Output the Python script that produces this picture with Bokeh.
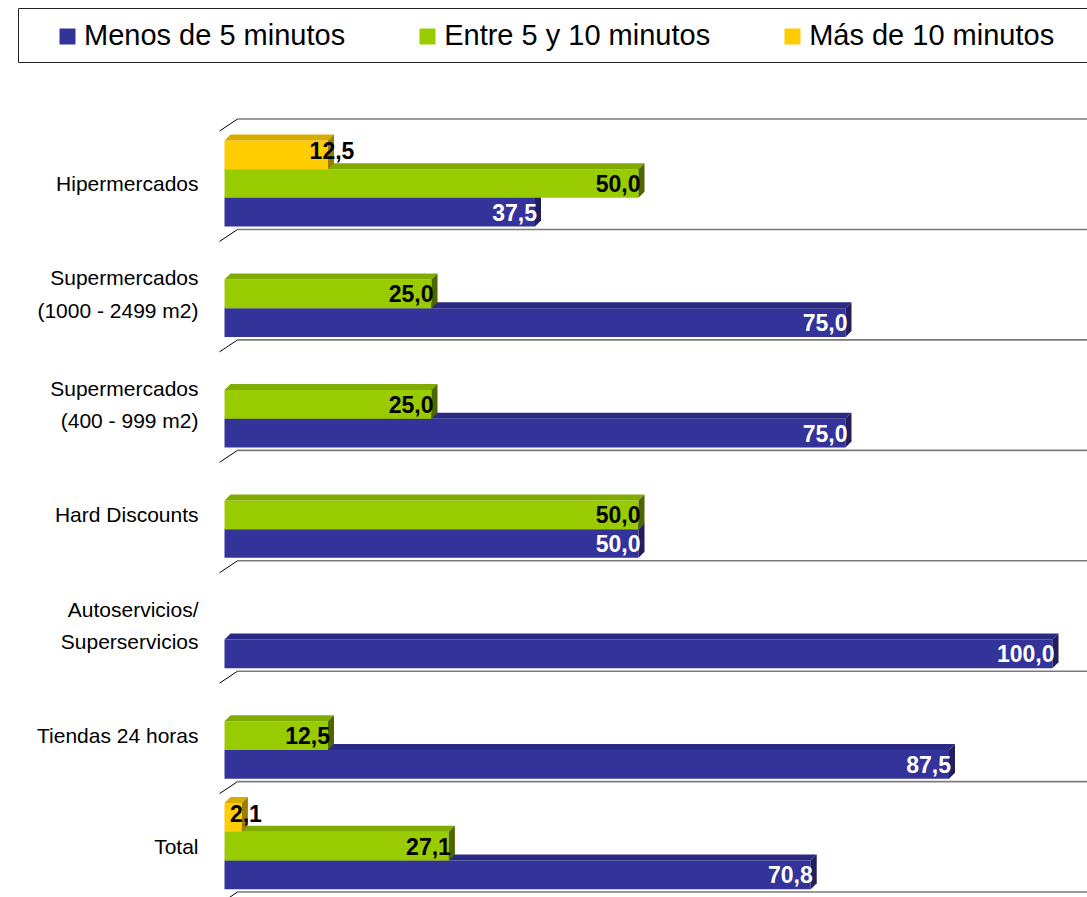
from bokeh.plotting import figure
from bokeh.models import Range1d, ColumnDataSource, Legend, LegendItem, BoxAnnotation
from bokeh.core.properties import value
from bokeh.embed import file_html
from bokeh.resources import INLINE

# ---------------- data ----------------
categories = [
    "Hipermercados",
    "Supermercados\n(1000 - 2499 m2)",
    "Supermercados\n(400 - 999 m2)",
    "Hard Discounts",
    "Autoservicios/\nSuperservicios",
    "Tiendas 24 horas",
    "Total",
]
menos_5 = [37.5, 75.0, 75.0, 50.0, 100.0, 87.5, 70.8]
entre_5_10 = [50.0, 25.0, 25.0, 50.0, 0.0, 12.5, 27.1]
mas_10 = [12.5, 0.0, 0.0, 0.0, 0.0, 0.0, 2.1]
series_names = ["Menos de 5 minutos", "Entre 5 y 10 minutos", "Más de 10 minutos"]

# ---------------- layout / style ----------------
FONT = "Liberation Sans"
W, H = 1087, 897
PX_X = 8.28            # pixels per percentage point
X0_PX = 224            # canvas x of value 0
PX_Y = 110.43          # pixels per category band
TOP_CENTER_PX = 183    # canvas y of first category centre

x_start = -X0_PX / PX_X
x_end = x_start + W / PX_X
n = len(categories)
y_end = (n - 1) + TOP_CENTER_PX / PX_Y
y_start = y_end - H / PX_Y

p = figure(width=W, height=H,
           x_range=Range1d(x_start, x_end), y_range=Range1d(y_start, y_end),
           x_axis_location=None, y_axis_location=None,
           output_backend="svg", toolbar_location=None,
           min_border=0, outline_line_color=None,
           background_fill_color="white", border_fill_color="white")
p.grid.visible = False

centers = [n - 1 - i for i in range(n)]

# ---- 3D floor grid lines (back plane) ----
DEPTH_X = 18 / PX_X
DEPTH_Y = 12 / PX_Y
FRONT_X = -5 / PX_X
front_lines = [centers[0] + 0.475] + [c - 0.525 for c in centers]
p.segment(x0=[FRONT_X + DEPTH_X] * len(front_lines), x1=[x_end + 5] * len(front_lines),
          y0=[f + DEPTH_Y for f in front_lines], y1=[f + DEPTH_Y for f in front_lines],
          line_color="#7a7a7a", line_width=1.6)
p.segment(x0=[FRONT_X] * len(front_lines), x1=[FRONT_X + DEPTH_X] * len(front_lines),
          y0=front_lines, y1=[f + DEPTH_Y for f in front_lines],
          line_color="#000000", line_width=1)

# ---- bars ----
BAR_H = 0.26
DX = 6 / PX_X
DY = 6 / PX_Y
specs = [
    (menos_5, -BAR_H, "#333399", "#2a2a85", "#1f1f5e", "white"),
    (entre_5_10, 0.0, "#99CC00", "#80ab00", "#4d6600", "black"),
    (mas_10, BAR_H, "#FFCC00", "#d9ad00", "#9c7d00", "black"),
]
renderers = []
for k, (vals, off, c_front, c_top, c_side, c_txt) in enumerate(specs):
    idx = [i for i, v in enumerate(vals) if v > 0]
    ys = [centers[i] + off for i in idx]
    vs = [vals[i] for i in idx]
    src = ColumnDataSource(dict(y=ys, v=vs))
    r = p.hbar(y="y", left=0, right="v", height=BAR_H, source=src,
               fill_color=c_front, line_color=None)
    renderers.append(r)
    top_xs = [[0, v, v + DX, DX] for v in vs]
    top_ys = [[y + BAR_H / 2, y + BAR_H / 2, y + BAR_H / 2 + DY, y + BAR_H / 2 + DY] for y in ys]
    p.patches(xs=top_xs, ys=top_ys, fill_color=c_top, line_color=None)
    side_xs = [[v, v + DX, v + DX, v] for v in vs]
    side_ys = [[y - BAR_H / 2, y - BAR_H / 2 + DY, y + BAR_H / 2 + DY, y + BAR_H / 2] for y in ys]
    p.patches(xs=side_xs, ys=side_ys, fill_color=c_side, line_color=None)

# ---- data labels ----
for k, (vals, off, c_front, c_top, c_side, c_txt) in enumerate(specs):
    idx = [i for i, v in enumerate(vals) if v > 0]
    ys = [centers[i] + off for i in idx]
    vs = [vals[i] for i in idx]
    src = ColumnDataSource(dict(y=ys, v=vs, lbl=[f"{v:.1f}".replace(".", ",") for v in vs]))
    if k < 2:
        p.text(x="v", y="y", text="lbl", source=src, x_offset=2, y_offset=0,
               text_align="right", text_baseline="middle",
               text_font=value(FONT), text_font_style="bold", text_font_size="23px",
               text_color=c_txt)
    else:
        p.text(x="v", y="y", text="lbl", source=src, x_offset=4, y_offset=-4,
               text_align="center", text_baseline="middle",
               text_font=value(FONT), text_font_style="bold", text_font_size="23px",
               text_color=c_txt)

# ---- category labels ----
p.text(x=[0] * n, y=centers, text=categories, x_offset=-26,
       text_align="right", text_baseline="middle",
       text_font=value(FONT), text_font_size="21px", text_color="black",
       text_line_height=1.4)

# ---- legend ----
legend = Legend(items=[LegendItem(label=series_names[i], renderers=[renderers[i]]) for i in range(3)],
                orientation="horizontal", location=(57, 845), padding=11, spacing=72,
                glyph_width=20, glyph_height=20, label_standoff=7,
                label_text_font=FONT, label_text_font_size="29px", label_text_color="black",
                border_line_color=None, background_fill_alpha=0)
p.add_layout(legend)
box = BoxAnnotation(left=18, right=1200, top=889, bottom=835,
                    left_units="screen", right_units="screen",
                    top_units="screen", bottom_units="screen",
                    fill_alpha=0, line_color="#222222", line_width=1, line_alpha=1)
p.add_layout(box)

open("out.html", "w").write(file_html(p, INLINE))
